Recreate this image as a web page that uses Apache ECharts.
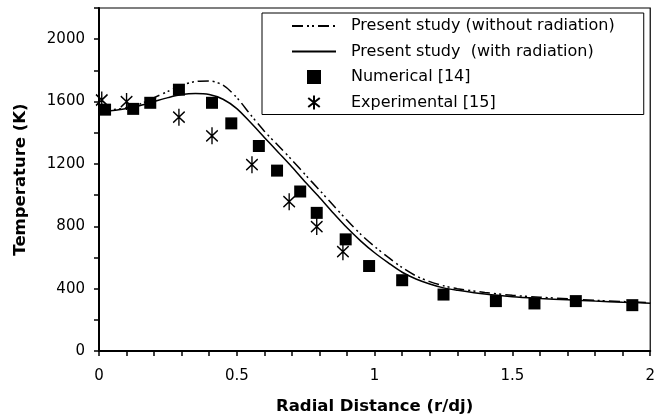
<!DOCTYPE html>
<html>
<head>
<meta charset="utf-8">
<script src="https://cdn.jsdelivr.net/npm/echarts@6/dist/echarts.min.js"></script>
<style>
html,body{margin:0;padding:0;background:#fff;}
#chart{width:658px;height:420px;}
</style>
</head>
<body>
<div id="chart"></div>
<script>
// Radial temperature profiles
const withoutRadiation = [
  [0,1545],[0.05,1548],[0.1,1560],[0.15,1585],[0.2,1625],[0.25,1665],[0.3,1705],[0.35,1728],
  [0.4,1732],[0.45,1705],[0.5,1625],[0.55,1515],[0.6,1410],[0.65,1318],[0.7,1225],[0.75,1128],
  [0.8,1032],[0.85,935],[0.9,838],[0.95,748],[1.0,670],[1.05,600],[1.1,535],[1.15,482],
  [1.2,445],[1.25,418],[1.3,400],[1.4,375],[1.5,357],[1.6,345],[1.7,335],[1.8,325],[1.9,317],[2.0,310]
];
const withRadiation = [
  [0,1540],[0.05,1542],[0.1,1555],[0.15,1575],[0.2,1600],[0.25,1625],[0.3,1645],[0.35,1652],
  [0.4,1645],[0.45,1615],[0.5,1555],[0.55,1465],[0.6,1370],[0.65,1275],[0.7,1180],[0.75,1080],
  [0.8,985],[0.85,885],[0.9,790],[0.95,705],[1.0,630],[1.05,565],[1.1,505],[1.15,462],
  [1.2,430],[1.25,405],[1.3,390],[1.4,365],[1.5,348],[1.6,337],[1.7,328],[1.8,320],[1.9,313],[2.0,307]
];
const numerical = [
  [0.022,1548],[0.124,1553],[0.186,1592],[0.29,1676],[0.41,1592],[0.48,1460],[0.58,1315],
  [0.646,1157],[0.73,1023],[0.79,886],[0.895,716],[0.98,545],[1.10,454],[1.25,362],
  [1.44,320],[1.58,305],[1.73,320],[1.935,294]
];
const experimental = [
  [0.01,1610],[0.10,1600],[0.29,1500],[0.41,1380],[0.555,1195],[0.69,958],[0.79,798],[0.885,637]
];
const seriesNames = [
  'Present study (without radiation)',
  'Present study  (with radiation)',
  'Numerical [14]',
  'Experimental [15]'
];
const xTicks = [0, 0.5, 1, 1.5, 2];
const yTicks = [0, 400, 800, 1200, 1600, 2000];

const FONT = 'DejaVu Sans';
const chart = echarts.init(document.getElementById('chart'), null, {renderer:'canvas'});
const starPath = 'path://M7,0L7,17M0,3L14,14M0,14L14,3';
const squarePath = 'path://M0,0L12,0L12,12L0,12Z';

chart.setOption({
  backgroundColor: '#fff',
  animation: false,
  grid: {left: 99, right: 4, top: 8, bottom: 68, show: true, borderColor: '#000', borderWidth: 1.2},
  xAxis: {
    type: 'value', min: xTicks[0], max: xTicks[xTicks.length-1], interval: 0.5,
    name: 'Radial Distance (r/dj)', nameLocation: 'middle', nameGap: 47,
    nameTextStyle: {fontFamily: FONT, fontWeight: 'bold', fontSize: 16.5, color: '#000'},
    axisLine: {show: true, lineStyle: {color: '#000', width: 2}},
    axisTick: {show: true, inside: false, length: 5, lineStyle: {color: '#000', width: 1.5}},
    minorTick: {show: true, splitNumber: 5, length: 5, lineStyle: {color: '#000', width: 1.5}},
    splitLine: {show: false},
    axisLabel: {fontFamily: FONT, fontSize: 15, color: '#000', margin: 18,
      formatter: v => String(v)}
  },
  yAxis: {
    type: 'value', min: yTicks[0], max: 2200, interval: 400,
    name: 'Temperature (K)', nameLocation: 'middle', nameGap: 70, nameRotate: 90,
    nameTextStyle: {fontFamily: FONT, fontWeight: 'bold', fontSize: 16.5, color: '#000'},
    axisLine: {show: true, lineStyle: {color: '#000', width: 2}},
    axisTick: {show: true, inside: false, length: 5, lineStyle: {color: '#000', width: 1.5}},
    minorTick: {show: true, splitNumber: 2, length: 5, lineStyle: {color: '#000', width: 1.5}},
    splitLine: {show: false},
    axisLabel: {fontFamily: FONT, fontSize: 15, color: '#000', margin: 14,
      formatter: v => (yTicks.indexOf(v) >= 0 ? String(v) : '')}
  },
  legend: {
    left: 262, top: 13, orient: 'vertical',
    data: [
      {name: seriesNames[0]},
      {name: seriesNames[1]},
      {name: seriesNames[2], icon: squarePath},
      {name: seriesNames[3]}
    ],
    itemWidth: 44, itemHeight: 14, itemGap: 9.5,
    padding: [5, 29, 4, 29],
    borderColor: '#000', borderWidth: 1, backgroundColor: '#fff',
    textStyle: {fontFamily: FONT, fontSize: 16, color: '#000', padding: [0, 0, 0, 10]}
  },
  series: [
    {
      name: seriesNames[0], type: 'line', data: withoutRadiation, smooth: 0.3,
      showSymbol: false, symbol: 'none',
      lineStyle: {color: '#000', width: 1.5, type: [11, 4, 2, 3, 2, 4]},
      itemStyle: {color: 'transparent', borderColor: 'transparent', borderWidth: 0}, z: 3
    },
    {
      name: seriesNames[1], type: 'line', data: withRadiation, smooth: 0.3,
      showSymbol: false, symbol: 'none',
      lineStyle: {color: '#000', width: 1.5, type: 'solid'},
      itemStyle: {color: 'transparent', borderColor: 'transparent', borderWidth: 0}, z: 3
    },
    {
      name: seriesNames[2], type: 'scatter', data: numerical,
      symbol: 'rect', symbolSize: 12,
      itemStyle: {color: '#000', opacity: 1}, z: 2
    },
    {
      name: seriesNames[3], type: 'scatter', data: experimental,
      symbol: starPath, symbolSize: [14, 17], symbolKeepAspect: true,
      itemStyle: {color: 'transparent', borderColor: '#000', borderWidth: 1.5, opacity: 1}, z: 2
    }
  ]
});
</script>
</body>
</html>
